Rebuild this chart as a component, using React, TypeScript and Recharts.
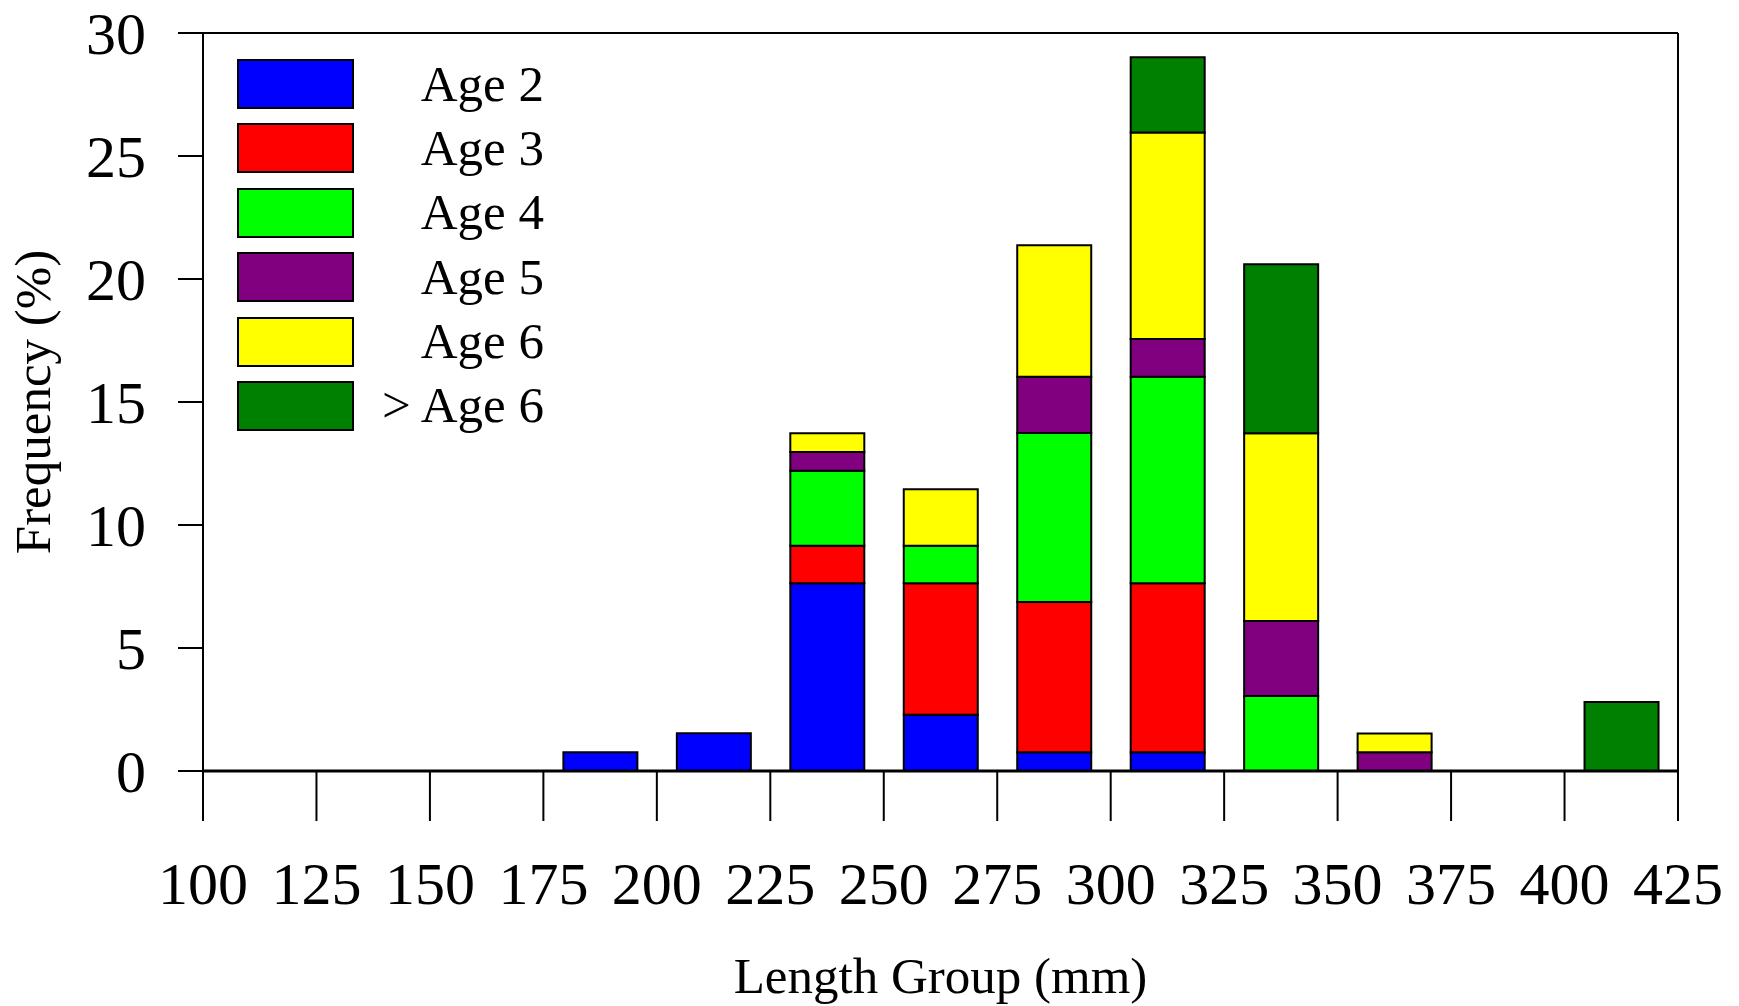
import { BarChart, Bar, XAxis, YAxis, Legend, ReferenceLine, Label } from "recharts";

// length bins (lower bound, mm), each 25 mm wide
const binStarts = [100, 125, 150, 175, 200, 225, 250, 275, 300, 325, 350, 375, 400];
const xTicks = [100, 125, 150, 175, 200, 225, 250, 275, 300, 325, 350, 375, 400, 425];
const yTicks = [0, 5, 10, 15, 20, 25, 30];

// frequency (%) per age class
const age2 = [0, 0, 0, 0.76, 1.53, 7.63, 2.29, 0.76, 0.76, 0, 0, 0, 0];
const age3 = [0, 0, 0, 0, 0, 1.53, 5.34, 6.11, 6.87, 0, 0, 0, 0];
const age4 = [0, 0, 0, 0, 0, 3.05, 1.53, 6.87, 8.4, 3.05, 0, 0, 0];
const age5 = [0, 0, 0, 0, 0, 0.76, 0, 2.29, 1.53, 3.05, 0.76, 0, 0];
const age6 = [0, 0, 0, 0, 0, 0.76, 2.29, 5.34, 8.4, 7.63, 0.76, 0, 0];
const ageOver6 = [0, 0, 0, 0, 0, 0, 0, 0, 3.05, 6.87, 0, 0, 2.8];

const series = [
  { key: "a2", name: "Age 2", color: "#0000ff", values: age2 },
  { key: "a3", name: "Age 3", color: "#ff0000", values: age3 },
  { key: "a4", name: "Age 4", color: "#00ff00", values: age4 },
  { key: "a5", name: "Age 5", color: "#800080", values: age5 },
  { key: "a6", name: "Age 6", color: "#ffff00", values: age6 },
  { key: "a7", name: "> Age 6", color: "#008000", values: ageOver6 },
];

const data = binStarts.map((start, i) => {
  const row: Record<string, number> = { mid: start + 12.5 };
  series.forEach((s) => (row[s.key] = s.values[i]));
  return row;
});

const FONT = "'Liberation Serif', 'Times New Roman', serif";
const order = series.map((s) => s.name);

function AgeLegend({ payload }: any) {
  // keep the series order (recharts sorts by value by default)
  const items = [...(payload || [])].sort((a: any, b: any) => order.indexOf(a.value) - order.indexOf(b.value));
  return (
    <div style={{ fontFamily: FONT, fontSize: 51, color: "#000" }}>
      {items.map((p: any) => (
        <div key={p.value} style={{ display: "flex", alignItems: "center", height: 50, marginBottom: 14.4 }}>
          <div style={{ width: 113, height: 46, background: p.color, border: "2px solid #000" }} />
          <div style={{ width: 190, textAlign: "right", lineHeight: 1 }}>{p.value}</div>
        </div>
      ))}
    </div>
  );
}

export default function App() {
  return (
    <div style={{ position: "absolute", left: 0, top: 0, width: 1739, height: 1006, background: "#fff" }}>
      <BarChart
        width={1739}
        height={1006}
        data={data}
        margin={{ top: 33, right: 61, bottom: 0, left: 0 }}
        style={{ fontFamily: FONT }}
      >
        <XAxis
          dataKey="mid"
          type="number"
          domain={[100, 425]}
          ticks={xTicks}
          interval={0}
          height={235}
          tickSize={50}
          tickMargin={40}
          tick={{ fontSize: 60, fill: "#000" }}
          axisLine={{ stroke: "#000", strokeWidth: 3 }}
          tickLine={{ stroke: "#000", strokeWidth: 2 }}
        >
          <Label
            content={({ viewBox }: any) => (
              <text
                x={viewBox.x + viewBox.width / 2}
                y={viewBox.y + 222}
                textAnchor="middle"
                fontSize={51}
                fontFamily={FONT}
                fill="#000"
              >
                Length Group (mm)
              </text>
            )}
          />
        </XAxis>
        <YAxis
          type="number"
          domain={[0, 30]}
          ticks={yTicks}
          interval={0}
          width={203}
          tickSize={25}
          tickMargin={32}
          tick={{ fontSize: 60, fill: "#000" }}
          axisLine={{ stroke: "#000", strokeWidth: 2 }}
          tickLine={{ stroke: "#000", strokeWidth: 2 }}
        >
          <Label
            content={({ viewBox }: any) => {
              const cx = 33;
              const cy = viewBox.y + viewBox.height / 2;
              return (
                <text
                  x={cx}
                  y={cy}
                  transform={`rotate(-90 ${cx} ${cy})`}
                  textAnchor="middle"
                  dominantBaseline="central"
                  fontSize={51}
                  fontFamily={FONT}
                  fill="#000"
                >
                  Frequency (%)
                </text>
              );
            }}
          />
        </YAxis>
        <ReferenceLine y={30} stroke="#000" strokeWidth={2} />
        <ReferenceLine x={425} stroke="#000" strokeWidth={2} />
        <Legend
          layout="vertical"
          align="center"
          verticalAlign="middle"
          content={<AgeLegend />}
          wrapperStyle={{ left: 237, top: 59, width: 360, height: 400 }}
        />
        {series.map((s) => (
          <Bar
            key={s.key}
            dataKey={s.key}
            name={s.name}
            stackId="age"
            fill={s.color}
            stroke="#000"
            strokeWidth={2}
            barSize={74}
            isAnimationActive={false}
          />
        ))}
      </BarChart>
    </div>
  );
}
